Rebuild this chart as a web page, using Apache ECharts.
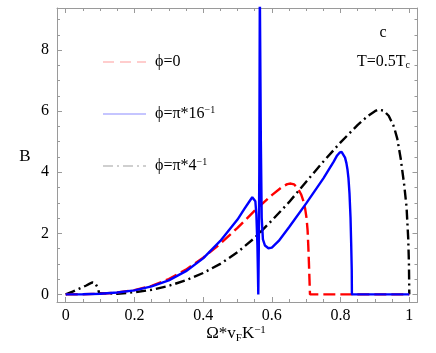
<!DOCTYPE html>
<html>
<head>
<meta charset="utf-8">
<script src="https://cdn.jsdelivr.net/npm/echarts@6/dist/echarts.min.js"></script>
<style>html,body{margin:0;padding:0;background:#fff}#c{width:436px;height:353px}</style>
</head>
<body>
<div id="c"></div>
<script>
// ---- data ----
const xMajor = [0, 0.2, 0.4, 0.6, 0.8, 1];
const xMinor = [0.05,0.1,0.15,0.25,0.3,0.35,0.45,0.5,0.55,0.65,0.7,0.75,0.85,0.9,0.95];
const yMajor = [0, 2, 4, 6, 8];
const yMinor = [0.5,1,1.5,2.5,3,3.5,4.5,5,5.5,6.5,7,7.5,8.5,9];

const redX = [0,0.05,0.1,0.15,0.2,0.25,0.3,0.35,0.4,0.45,0.5,0.55,0.6,0.63,0.645,0.655,0.665,0.675,0.685,0.692,0.697,0.701,0.704,0.706,0.708,0.7095,0.7105,0.711,0.75,0.8,0.9,1.0];
const redY = [0,0.005,0.02,0.06,0.14,0.28,0.5,0.81,1.2,1.66,2.18,2.74,3.25,3.52,3.61,3.63,3.6,3.48,3.28,3.05,2.8,2.5,2.1,1.6,1.0,0.5,0.15,0,0,0,0,0];

const blueX = [0,0.05,0.1,0.15,0.2,0.25,0.3,0.35,0.4,0.45,0.5,0.52,0.535,0.543,0.548,0.552,0.555,0.558,0.5595,0.5605,0.562,0.5635,0.565,0.5665,0.568,0.5705,0.574,0.58,0.59,0.6,0.62,0.65,0.7,0.75,0.78,0.79,0.797,0.803,0.808,0.813,0.817,0.82,0.823,0.826,0.829,0.831,0.8325,0.833,0.9,1.0];
const blueY = [0,0.005,0.02,0.06,0.13,0.26,0.46,0.76,1.18,1.75,2.45,2.8,3.05,3.18,3.2,3.05,2.6,1.6,0.7,0,1.5,4,10,10,5,2.5,1.8,1.6,1.51,1.53,1.75,2.2,2.98,3.8,4.35,4.55,4.64,4.67,4.62,4.48,4.3,4.1,3.8,3.3,2.5,1.6,0.8,0,0,0];

const blackX = [0,0.02,0.04,0.06,0.07,0.078,0.085,0.09,0.094,0.097,0.1,0.15,0.2,0.25,0.3,0.35,0.4,0.45,0.5,0.55,0.6,0.65,0.7,0.75,0.8,0.85,0.88,0.9,0.91,0.925,0.94,0.955,0.965,0.975,0.985,0.992,0.997,0.999,1.0];
const blackY = [0,0.09,0.19,0.29,0.35,0.39,0.38,0.32,0.2,0.05,0,0.02,0.07,0.15,0.28,0.46,0.7,1.0,1.38,1.85,2.42,3.02,3.69,4.35,4.98,5.55,5.85,6.0,6.05,6.02,5.85,5.5,5.1,4.45,3.6,2.87,1.8,1.0,0];

const legendNames = ['ϕ=0', 'ϕ=π*16', 'ϕ=π*4'];

// ---- chart ----
const zip = (a, b) => a.map((v, i) => [v, b[i]]);
const FONT = 'Liberation Serif';
const XMIN = -0.0253, XMAX = 1.0239, YMIN = -0.25, YMAX = 9.38;
const frameColor = '#9a9a9a';

function xAxisDef(pos, vals, len, line, labels) {
  return {
    type: 'value', position: pos, min: XMIN, max: XMAX, gridIndex: 0,
    axisLine: { show: line, onZero: false, lineStyle: { color: frameColor, width: 1 } },
    axisTick: { show: true, inside: true, length: len, customValues: vals, lineStyle: { color: frameColor } },
    axisLabel: labels ? { show: true, customValues: vals, margin: 6, color: '#000', fontFamily: FONT, fontSize: 16,
      formatter: v => String(Math.round(v * 10) / 10) } : { show: false },
    splitLine: { show: false }
  };
}
function yAxisDef(pos, vals, len, line, labels) {
  return {
    type: 'value', position: pos, min: YMIN, max: YMAX, gridIndex: 0,
    axisLine: { show: line, onZero: false, lineStyle: { color: frameColor, width: 1 } },
    axisTick: { show: true, inside: true, length: len, customValues: vals, lineStyle: { color: frameColor } },
    axisLabel: labels ? { show: true, customValues: vals, margin: 8, color: '#000', fontFamily: FONT, fontSize: 16,
      formatter: v => String(Math.round(v)) } : { show: false },
    splitLine: { show: false }
  };
}

const chart = echarts.init(document.getElementById('c'), null, { renderer: 'canvas' });
const lineSeries = (name, x, y, color, type, z) => ({
  name, type: 'line', data: zip(x, y), xAxisIndex: 0, yAxisIndex: 0,
  showSymbol: false, symbol: 'none', smooth: false, clip: true, z,
  lineStyle: { color, width: 2.4, type, cap: 'butt' }, animation: false
});

chart.setOption({
  animation: false,
  textStyle: { fontFamily: FONT },
  grid: { left: 57, right: 18.5, top: 8, bottom: 51, containLabel: false },
  xAxis: [
    xAxisDef('bottom', xMajor, 5, true, true),
    xAxisDef('bottom', xMinor, 3, false, false),
    xAxisDef('top', xMajor, 5, true, false),
    xAxisDef('top', xMinor, 3, false, false)
  ],
  yAxis: [
    yAxisDef('left', yMajor, 5, true, true),
    yAxisDef('left', yMinor, 3, false, false),
    yAxisDef('right', yMajor, 5, true, false),
    yAxisDef('right', yMinor, 3, false, false)
  ],
  series: [
    lineSeries(legendNames[2], blackX, blackY, '#000', [10, 4, 2, 4], 2),
    lineSeries(legendNames[0], redX, redY, '#ff0000', [12, 5], 3),
    lineSeries(legendNames[1], blueX, blueY, '#0000ff', 'solid', 4)
  ],
  graphic: [
    { type: 'text', x: 25, y: 157, style: { text: 'B', fontFamily: FONT, fontSize: 17, fill: '#000', align: 'center', verticalAlign: 'middle' } },
    { type: 'text', x: 236, y: 334, style: { text: '{a|Ω*v}{s|F}{a|K}{p|−1}', align: 'center', verticalAlign: 'middle',
        rich: { a: { fontFamily: FONT, fontSize: 17, fill: '#000' }, s: { fontFamily: FONT, fontSize: 11, fill: '#000', padding: [8,0,0,0] }, p: { fontFamily: FONT, fontSize: 11, fill: '#000', padding: [0,0,8,0] } } } },
    { type: 'text', x: 383, y: 33, style: { text: 'c', fontFamily: FONT, fontSize: 16, fill: '#000', align: 'center', verticalAlign: 'middle' } },
    { type: 'text', x: 410, y: 62, style: { text: '{a|T=0.5T}{s|c}', align: 'right', verticalAlign: 'middle',
        rich: { a: { fontFamily: FONT, fontSize: 16, fill: '#000' }, s: { fontFamily: FONT, fontSize: 10, fill: '#000', padding: [7,0,0,0] } } } },
    // legend
    { type: 'line', shape: { x1: 103, y1: 62, x2: 146, y2: 62 }, style: { stroke: '#ff9c9c', lineWidth: 1.2, lineDash: [11, 6] } },
    { type: 'line', shape: { x1: 103, y1: 114, x2: 146, y2: 114 }, style: { stroke: '#8c8cff', lineWidth: 1.2 } },
    { type: 'line', shape: { x1: 103, y1: 166, x2: 146, y2: 166 }, style: { stroke: '#a0a0a0', lineWidth: 1.2, lineDash: [10, 4, 2, 4] } },
    { type: 'text', x: 155, y: 62, style: { text: legendNames[0], fontFamily: FONT, fontSize: 16, fill: '#000', verticalAlign: 'middle' } },
    { type: 'text', x: 155, y: 114, style: { text: '{a|' + legendNames[1] + '}{p|−1}', verticalAlign: 'middle',
        rich: { a: { fontFamily: FONT, fontSize: 16, fill: '#000' }, p: { fontFamily: FONT, fontSize: 10, fill: '#000', padding: [0,0,8,0] } } } },
    { type: 'text', x: 155, y: 166, style: { text: '{a|' + legendNames[2] + '}{p|−1}', verticalAlign: 'middle',
        rich: { a: { fontFamily: FONT, fontSize: 16, fill: '#000' }, p: { fontFamily: FONT, fontSize: 10, fill: '#000', padding: [0,0,8,0] } } } }
  ]
});
</script>
</body>
</html>
